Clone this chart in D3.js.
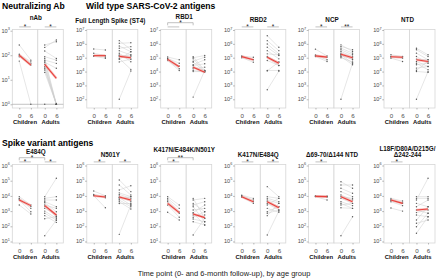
<!DOCTYPE html>
<html><head><meta charset="utf-8">
<script src="https://cdn.jsdelivr.net/npm/d3@7"></script>
<style>body{margin:0;background:#fff}svg{display:block;font-family:"Liberation Sans",Arial,sans-serif}</style>
</head><body><svg id="c" width="440" height="280"></svg>
<script>
// ---------- DATA (values are log10 titres) ----------
const panels = ["nAb","Full Length Spike (ST4)","RBD1","RBD2","NCP","NTD",
  "E484Q","N501Y","K417N/E484K/N501Y","K417N/E484Q","Δ69-70/Δ144 NTD","L18F/D80A/D215G/|Δ242-244"];
const groups = ["Children","Adults"];
const timepoints = ["0","6"];
const ticksNAb = [0,1,2,3];
const ticksWild = [2,3,4,5,6,7];
const ticksVariant = [1,2,3,4,5,6];

// paired [month0, month6] per subject
const nAbChildren = [[2.42,1.8],[2.04,1.73],[2.0,1.67],[1.94,1.6],[1.76,0]];
const nAbAdults = [[2.42,2.55],[2.32,2.62],[2.17,1.87],[1.94,1.8],[1.87,0],[1.8,1.67],[1.76,0],[1.71,1.47],[1.63,0],[1.53,0],[1.47,0],[1.4,0],[1.3,0],[0,0]];
const flsChildren = [[5.63,5.56],[5.32,5.15],[5.15,5.05],[5.1,4.96]];
const flsAdults = [[6.23,5.6],[6.04,6.08],[5.85,5.43],[5.68,5.8],[5.5,5.2],[5.32,4.71],[5.2,5.07],[5.15,4.9],[5.07,5.2],[4.95,4.16],[4.88,5.43],[4.7,4.9],[2.0,4.04]];
const rbd1Children = [[5.05,4.85],[4.95,4.6],[4.9,4.4],[4.85,4.2],[4.8,4.08]];
const rbd1Adults = [[5.08,4.08],[5.0,5.16],[4.92,4.0],[4.75,5.03],[4.68,4.0],[4.5,4.85],[4.44,4.56],[4.32,4.08],[4.2,4.32],[4.08,3.96],[4.0,4.0],[2.16,4.08]];
const rbd2Children = [[5.12,5.03],[5.08,4.85],[5.0,4.68]];
const rbd2Adults = [[6.59,5.75],[6.23,5.51],[5.99,5.28],[5.75,5.16],[5.51,4.92],[5.28,5.2],[5.1,4.68],[5.03,4.44],[4.8,4.44],[4.08,4.08],[4.05,4.7],[2.69,4.03]];
const ncpChildren = [[5.62,5.13],[5.2,5.04],[5.15,4.85],[5.09,4.73]];
const ncpAdults = [[5.93,5.45],[5.81,5.57],[5.69,5.33],[5.57,5.21],[5.45,5.09],[5.33,5.0],[5.25,4.85],[5.21,4.61],[5.15,4.9],[5.09,4.49],[5.0,4.7],[2.0,4.61]];
const ntdChildren = [[5.21,5.09],[5.09,5.05],[5.05,4.97],[4.97,4.73]];
const ntdAdults = [[5.68,5.21],[5.57,5.09],[5.33,4.85],[5.09,4.61],[4.9,4.85],[4.73,4.37],[4.6,4.13],[4.49,4.61],[4.25,4.37],[4.1,4.73],[4.01,3.94],[2.0,4.0]];
const e484qChildren = [[3.95,3.4],[3.84,3.3],[3.8,3.18],[3.73,2.96],[3.4,2.81]];
const e484qAdults = [[3.95,5.16],[3.84,3.95],[3.73,3.73],[3.62,3.29],[3.55,2.96],[3.4,3.18],[3.3,2.63],[3.18,2.74],[3.0,2.53],[2.86,2.41],[2.7,2.26],[2.5,2.63],[1.38,2.4]];
const n501yChildren = [[4.32,4.01],[4.1,3.95],[4.05,3.88],[4.01,3.22]];
const n501yAdults = [[5.05,4.28],[4.72,4.06],[4.39,4.67],[4.2,3.95],[4.1,3.84],[3.99,3.62],[3.9,3.73],[3.88,3.4],[3.8,3.95],[3.73,3.29],[3.62,3.14],[3.5,3.5],[1.47,3.4]];
const kenChildren = [[3.95,3.4],[3.84,3.18],[3.73,2.95],[3.62,2.86],[3.4,2.6],[2.92,2.41]];
const kenAdults = [[3.84,2.53],[3.73,3.84],[3.51,2.96],[3.4,3.62],[3.29,2.3],[3.07,3.18],[2.9,3.4],[2.86,2.09],[2.74,2.74],[2.6,2.96],[2.48,2.3],[2.3,2.09],[1.43,2.53]];
const keChildren = [[4.05,3.84],[4.01,3.73],[3.95,3.62],[3.91,3.51]];
const keAdults = [[4.61,3.95],[3.95,3.84],[3.84,3.62],[3.73,3.51],[3.62,3.29],[3.5,3.07],[3.4,3.84],[3.18,2.92],[2.96,3.29],[2.86,3.07],[2.7,3.51],[1.43,3.0]];
const delChildren = [[4.0,3.99],[3.99,3.95],[3.97,3.93],[3.95,3.73]];
const delAdults = [[4.93,4.5],[4.72,4.72],[4.5,4.17],[4.28,3.95],[4.06,3.73],[3.95,3.84],[3.84,3.51],[3.62,3.36],[3.5,3.18],[3.4,3.51],[3.22,3.18],[1.38,2.63]];
const l18Children = [[3.84,3.66],[3.75,3.55],[3.7,3.51],[3.62,3.36],[3.2,3.0]];
const l18Adults = [[3.95,3.95],[3.84,3.84],[3.73,5.16],[3.51,3.29],[3.29,3.73],[3.07,2.86],[2.9,3.07],[2.74,2.63],[2.41,3.29],[2.2,2.41],[1.97,2.86],[1.54,2.63]];

const childrenData = [nAbChildren,flsChildren,rbd1Children,rbd2Children,ncpChildren,ntdChildren,e484qChildren,n501yChildren,kenChildren,keChildren,delChildren,l18Children];
const adultsData = [nAbAdults,flsAdults,rbd1Adults,rbd2Adults,ncpAdults,ntdAdults,e484qAdults,n501yAdults,kenAdults,keAdults,delAdults,l18Adults];
// group summary (red line) [month0, month6]
const summaryChildren = [[2.0,1.6],[5.15,5.15],[4.88,4.35],[5.08,4.85],[5.13,5.04],[5.07,5.03],[3.73,3.36],[4.01,3.93],[3.51,2.9],[3.95,3.62],[3.97,3.95],[3.73,3.51]];
const summaryAdults = [[1.63,1.06],[5.1,5.0],[4.32,3.96],[5.03,4.6],[5.25,5.0],[4.85,4.73],[3.36,2.74],[3.93,3.73],[2.81,2.57],[3.62,3.22],[3.95,3.62],[3.07,3.14]];
// significance labels (null = none, "" = bracket only)
const sigChildren = ["*",null,"","*","*",null,"*","*","*","*","*","*"];
const sigAdults = ["*",null,null,"*","**",null,"*","*",null,"*",null,null];
const sigBetween = [null,null,"*",null,null,null,"*",null,"**",null,null,null];

// ---------- LAYOUT ----------
const colLeft = [12.3, 86.8, 160.7, 234.8, 308.5, 384];
const boxW = 51;
const rowTop = [29.5, 164.5], rowBot = [108, 243];
const domNAb = [-0.151, 3.049], domWild = [1.372, 7.036], domVar = [0.901, 6.066];
const titleY = [20, 22.5, 18.5, 21.5, 21.5, 21.5, 153.5, 156.5, 152, 156.5, 156.5, 151];

const svg = d3.select("#c");
const txtCol = "#4d4d4d";

svg.append("text").attr("x",2).attr("y",8.6).attr("font-size",8.6).attr("font-weight","bold").text("Neutralizing Ab");
svg.append("text").attr("x",86).attr("y",8.6).attr("font-size",8.6).attr("font-weight","bold").text("Wild type SARS-CoV-2 antigens");
svg.append("text").attr("x",2).attr("y",145.5).attr("font-size",8.6).attr("font-weight","bold").text("Spike variant antigens");
svg.append("text").attr("x",224).attr("y",276).attr("font-size",7.5).attr("fill","#222").attr("text-anchor","middle")
  .text("Time point (0- and 6-month follow-up), by age group");

panels.forEach((name,i)=>{
  const row = i<6?0:1, col = i%6;
  const L = colLeft[col], R = L+boxW, top = rowTop[row], bot = rowBot[row];
  const dom = i===0 ? domNAb : (row===0 ? domWild : domVar);
  const ticks = i===0 ? ticksNAb : (row===0 ? ticksWild : ticksVariant);
  const y = d3.scaleLog().domain([10**dom[0], 10**dom[1]]).range([bot, top]);
  const fx = d3.scaleBand().domain(groups).range([L,R]);
  const g = svg.append("g");
  const xs = {};
  groups.forEach(gr=>{
    xs[gr] = d3.scalePoint().domain(timepoints).range([fx(gr), fx(gr)+fx.bandwidth()]).padding(0.6);
    g.append("rect").attr("x",fx(gr)).attr("y",top).attr("width",fx.bandwidth()).attr("height",bot-top)
      .attr("fill","#fff").attr("stroke","#d6d6d6").attr("stroke-width",0.8);
  });
  // y axis
  const ya = g.append("g").attr("transform",`translate(${L},0)`)
    .call(d3.axisLeft(y).tickValues(ticks.map(t=>10**t)).tickSize(1.8).tickFormat(""));
  ya.select(".domain").remove();
  ya.selectAll("line").attr("stroke","#777").attr("stroke-width",0.5);
  ticks.forEach(t=>{
    const tx = g.append("text").attr("x",L-2.5).attr("y",y(10**t)+2).attr("text-anchor","end")
      .attr("font-size",5.6).attr("fill",txtCol);
    tx.append("tspan").text("10");
    tx.append("tspan").attr("font-size",3.8).attr("dy",-2.3).text(t);
  });
  if(i===0){
    g.append("line").attr("x1",L).attr("x2",R).attr("y1",y(1)).attr("y2",y(1)).attr("stroke","#9a9a9a").attr("stroke-width",0.6);
  }
  // data
  const sets = {Children: childrenData[i], Adults: adultsData[i]};
  const sums = {Children: summaryChildren[i], Adults: summaryAdults[i]};
  groups.forEach(gr=>{
    const x = xs[gr];
    sets[gr].forEach(p=>{
      g.append("line").attr("x1",x("0")).attr("x2",x("6")).attr("y1",y(10**p[0])).attr("y2",y(10**p[1]))
        .attr("stroke","#cdcdcd").attr("stroke-width",0.5);
    });
    sets[gr].forEach(p=>{
      p.forEach((v,k)=>{
        g.append("circle").attr("cx",x(timepoints[k])).attr("cy",y(10**v)).attr("r",0.7).attr("fill","#555");
      });
    });
    const s = sums[gr];
    g.append("line").attr("x1",x("0")).attr("x2",x("6")).attr("y1",y(10**s[0])).attr("y2",y(10**s[1]))
      .attr("stroke","#f3a6a2").attr("stroke-width",2.6).attr("opacity",0.65);
    g.append("line").attr("x1",x("0")).attr("x2",x("6")).attr("y1",y(10**s[0])).attr("y2",y(10**s[1]))
      .attr("stroke","#e8413c").attr("stroke-width",1.1);
    // x axis
    const xa = g.append("g").attr("transform",`translate(0,${bot})`)
      .call(d3.axisBottom(x).tickSize(1.5).tickPadding(3.6));
    xa.select(".domain").remove();
    xa.selectAll("line").attr("stroke","#777").attr("stroke-width",0.5);
    xa.selectAll("text").attr("font-size",6.2).attr("fill",txtCol).attr("font-family",null);
    g.append("text").attr("x",fx(gr)+fx.bandwidth()/2).attr("y",bot+15.8).attr("text-anchor","middle")
      .attr("font-size",5.9).attr("font-weight","bold").attr("fill","#111").text(gr);
  });
  // significance
  const smallY = top-2.6;
  [[sigChildren[i],"Children"],[sigAdults[i],"Adults"]].forEach(([lab,gr])=>{
    if(lab===null) return;
    const x = xs[gr];
    g.append("line").attr("x1",x("0")).attr("x2",x("6")).attr("y1",smallY).attr("y2",smallY).attr("stroke","#999").attr("stroke-width",0.6);
    if(lab) g.append("text").attr("x",(x("0")+x("6"))/2).attr("y",smallY+2.4).attr("text-anchor","middle")
      .attr("font-size",6.5).attr("fill","#222").text(lab);
  });
  if(sigBetween[i]){
    const x1 = xs.Children("0"), x2 = xs.Adults("0"), by = top-6.8;
    g.append("path").attr("d",`M${x1},${by+2.6}V${by}H${x2}V${by+2.6}`).attr("fill","none").attr("stroke","#999").attr("stroke-width",0.6);
    g.append("text").attr("x",(x1+x2)/2).attr("y",by+2.2).attr("text-anchor","middle")
      .attr("font-size",6.5).attr("fill","#222").text(sigBetween[i]);
  }
  // title
  const lines = name.split("|");
  lines.forEach((ln,k)=>{
    g.append("text").attr("x",(L+R)/2-2).attr("y",titleY[i]+k*6.3).attr("text-anchor","middle")
      .attr("font-size",6.3).attr("font-weight","bold").attr("fill","#111").text(ln);
  });
});
</script></body></html>
